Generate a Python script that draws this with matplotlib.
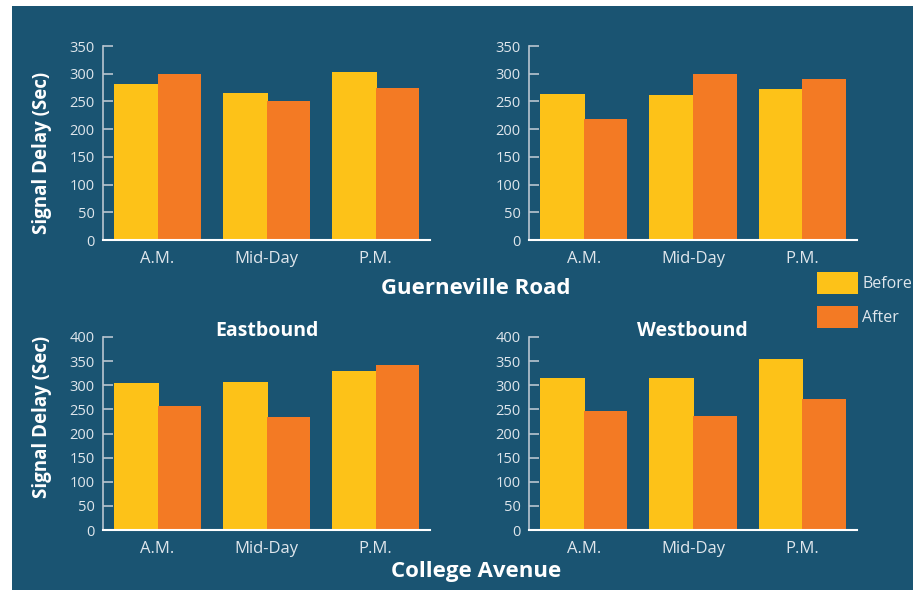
import matplotlib
matplotlib.use("Agg")
import numpy as np
from matplotlib import pyplot as plt
from matplotlib.patches import Rectangle

plt.rcParams['font.family'] = ['Open Sans', 'DejaVu Sans']

# Signal delay in seconds by time of day
periods = ["A.M.", "Mid-Day", "P.M."]

guerneville_east_before = [281, 265, 303]
guerneville_east_after = [300, 250, 274]
guerneville_west_before = [263, 261, 272]
guerneville_west_after = [219, 300, 290]

college_east_before = [305, 307, 330]
college_east_after = [257, 234, 342]
college_west_before = [315, 315, 354]
college_west_after = [247, 236, 271]

guerneville_ticks = np.arange(0, 351, 50)
college_ticks = np.arange(0, 401, 50)

bg = "#1a5472"
yellow = "#fdc218"
orange = "#f37a24"
light = "#dfe6ec"

W, H = 918, 590
fig = plt.figure(figsize=(W / 100, H / 100), dpi=100)
fig.patch.set_facecolor("white")
fig.patches.append(Rectangle((12 / W, 0), (913 - 12) / W, (H - 6) / H,
                             transform=fig.transFigure, facecolor=bg,
                             edgecolor="none", zorder=-10))


def box(x0, x1, y0, y1):
    # pixel box -> figure fraction [left, bottom, width, height]
    return [x0 / W, 1 - y1 / H, (x1 - x0) / W, (y1 - y0) / H]


def draw(ax, before, after, ticks):
    x = np.arange(len(periods))
    # "before" bar runs slightly under the "after" bar so no seam shows
    ax.bar(x - 0.4, before, width=0.41, align="edge", color=yellow, linewidth=0)
    ax.bar(x + 0.2, after, width=0.4, color=orange, linewidth=0)
    ax.set_facecolor("none")
    ax.set_xlim(-0.5, 2.5)
    ax.set_ylim(0, ticks[-1])
    ax.set_yticks(ticks)
    ax.set_xticks(x)
    ax.set_xticklabels(periods)
    for s in ["top", "right"]:
        ax.spines[s].set_visible(False)
    ax.spines["left"].set_color("#b9c6d0")
    ax.spines["left"].set_linewidth(1.2)
    ax.spines["bottom"].set_color("white")
    ax.spines["bottom"].set_linewidth(1.5)
    ax.tick_params(axis="y", direction="in", length=7, width=1.2,
                   color="#b9c6d0", labelcolor=light, labelsize=10.5, pad=6)
    ax.tick_params(axis="x", length=0, labelcolor=light, labelsize=12, pad=8)


ax1 = fig.add_axes(box(103, 430, 46, 240))
draw(ax1, guerneville_east_before, guerneville_east_after, guerneville_ticks)
ax2 = fig.add_axes(box(529, 857, 46, 240))
draw(ax2, guerneville_west_before, guerneville_west_after, guerneville_ticks)
ax3 = fig.add_axes(box(103, 430, 337, 530))
draw(ax3, college_east_before, college_east_after, college_ticks)
ax4 = fig.add_axes(box(529, 857, 337, 530))
draw(ax4, college_west_before, college_west_after, college_ticks)


def label(x, y, s, size, **kw):
    fig.text(x / W, 1 - y / H, s, color="white", fontsize=size,
             fontweight="bold", ha="center", va="center", **kw)


label(267, 331, "Eastbound", 14)
label(692, 331, "Westbound", 14)
label(476, 288, "Guerneville Road", 16)
label(476, 571, "College Avenue", 16)
label(42, 153, "Signal Delay (Sec)", 13.5, rotation=90)
label(42, 417, "Signal Delay (Sec)", 13.5, rotation=90)

# legend swatches and labels
for name, color, top in [("Before", yellow, 272), ("After", orange, 306)]:
    fig.patches.append(Rectangle((817 / W, 1 - (top + 22) / H), 41 / W, 22 / H,
                                 transform=fig.transFigure, facecolor=color,
                                 edgecolor="none"))
    fig.text(862 / W, 1 - (top + 12) / H, name, color=light, fontsize=11.5,
             ha="left", va="center")

fig.savefig("out.png", dpi=100, facecolor=fig.get_facecolor())
